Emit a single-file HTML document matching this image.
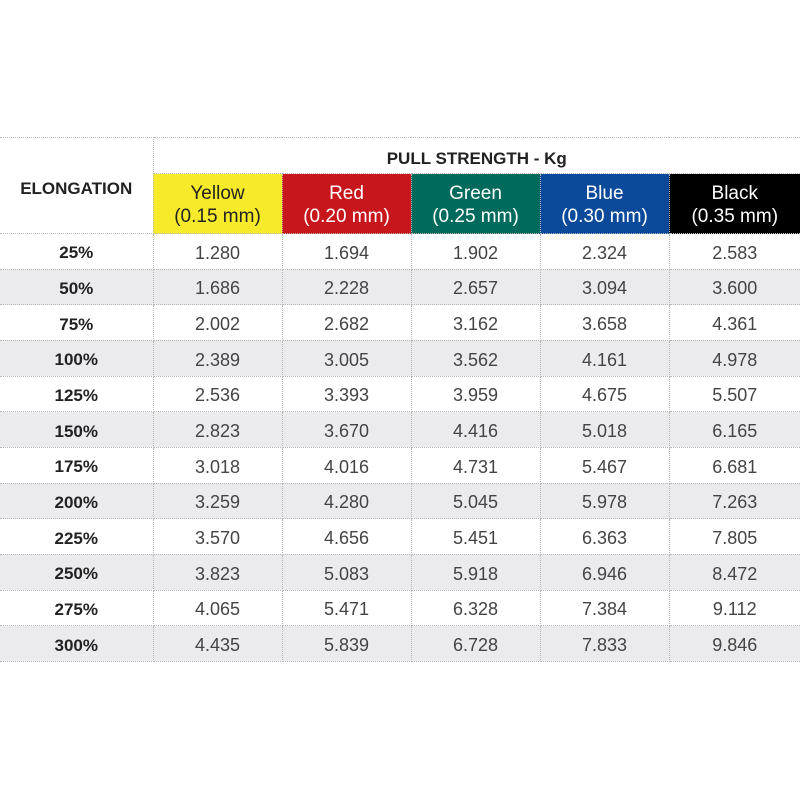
<!DOCTYPE html>
<html><head><style>
body{margin:0;width:800px;height:800px;background:#fff;position:relative;font-family:"Liberation Sans",sans-serif;overflow:hidden}
table{position:absolute;left:0;top:137px;width:800px;border-collapse:collapse;table-layout:fixed}
td{border:1px dotted #b8b8b8;text-align:center;padding:0;color:#444;font-size:18px}
td:first-child{border-left:none}
td:last-child{border-right:none}
tr.d td{height:35.67px;padding-top:4px;box-sizing:border-box}
tr.g td{background:#ebebee}
td.e{font-weight:bold;color:#222;font-size:17px}
.h td{color:#fff;font-size:19px;line-height:23px;padding-top:2px}
</style></head><body>
<table>
<colgroup><col style="width:153px"><col style="width:129px"><col style="width:129px"><col style="width:129px"><col style="width:129px"><col style="width:131px"></colgroup>
<tr style="height:36px"><td rowspan="2" style="font-weight:bold;font-size:17px;color:#222;padding-top:6px">ELONGATION</td><td colspan="5" style="font-weight:bold;font-size:17px;color:#222;padding-top:6px">PULL STRENGTH - Kg</td></tr>
<tr class="h" style="height:60px"><td style="background:#f7ea2a;color:#222">Yellow<br>(0.15 mm)</td><td style="background:#c8161d">Red<br>(0.20 mm)</td><td style="background:#006b5c">Green<br>(0.25 mm)</td><td style="background:#0b4a9b">Blue<br>(0.30 mm)</td><td style="background:#000">Black<br>(0.35 mm)</td></tr>
<tr class="d"><td class="e">25%</td><td>1.280</td><td>1.694</td><td>1.902</td><td>2.324</td><td>2.583</td></tr>
<tr class="d g"><td class="e">50%</td><td>1.686</td><td>2.228</td><td>2.657</td><td>3.094</td><td>3.600</td></tr>
<tr class="d"><td class="e">75%</td><td>2.002</td><td>2.682</td><td>3.162</td><td>3.658</td><td>4.361</td></tr>
<tr class="d g"><td class="e">100%</td><td>2.389</td><td>3.005</td><td>3.562</td><td>4.161</td><td>4.978</td></tr>
<tr class="d"><td class="e">125%</td><td>2.536</td><td>3.393</td><td>3.959</td><td>4.675</td><td>5.507</td></tr>
<tr class="d g"><td class="e">150%</td><td>2.823</td><td>3.670</td><td>4.416</td><td>5.018</td><td>6.165</td></tr>
<tr class="d"><td class="e">175%</td><td>3.018</td><td>4.016</td><td>4.731</td><td>5.467</td><td>6.681</td></tr>
<tr class="d g"><td class="e">200%</td><td>3.259</td><td>4.280</td><td>5.045</td><td>5.978</td><td>7.263</td></tr>
<tr class="d"><td class="e">225%</td><td>3.570</td><td>4.656</td><td>5.451</td><td>6.363</td><td>7.805</td></tr>
<tr class="d g"><td class="e">250%</td><td>3.823</td><td>5.083</td><td>5.918</td><td>6.946</td><td>8.472</td></tr>
<tr class="d"><td class="e">275%</td><td>4.065</td><td>5.471</td><td>6.328</td><td>7.384</td><td>9.112</td></tr>
<tr class="d g"><td class="e">300%</td><td>4.435</td><td>5.839</td><td>6.728</td><td>7.833</td><td>9.846</td></tr>
</table>
</body></html>
